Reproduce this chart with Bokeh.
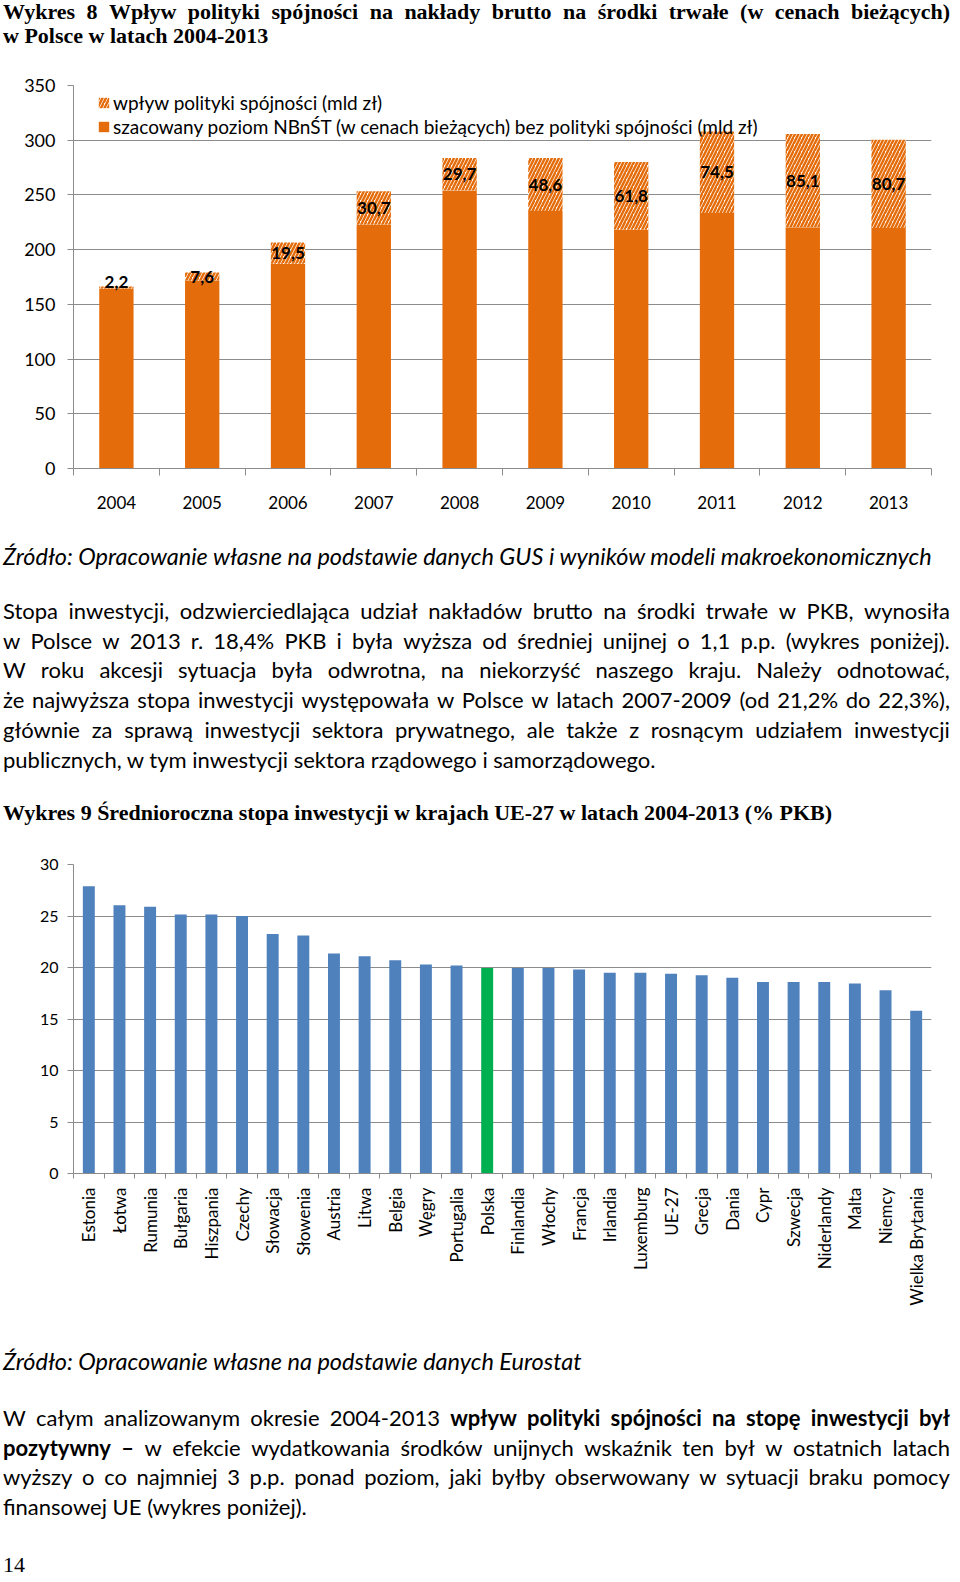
import math
import numpy as np
from bokeh.plotting import figure
from bokeh.models import Range1d, FixedTicker, Legend, LegendItem, Div, ColumnDataSource
from bokeh.layouts import column
from bokeh.core.properties import value
from bokeh.embed import file_html
from bokeh.resources import INLINE

# ---------------- data: chart 8 ----------------
years = ["2004", "2005", "2006", "2007", "2008", "2009", "2010", "2011", "2012", "2013"]
nbnst_without_cohesion = [164.2, 171.5, 187.1, 222.7, 254.1, 235.2, 218.2, 233.4, 220.5, 219.7]
cohesion_impact = [2.2, 7.6, 19.5, 30.7, 29.7, 48.6, 61.8, 74.5, 85.1, 80.7]
y1_ticks = [0, 50, 100, 150, 200, 250, 300, 350]

# ---------------- data: chart 9 ----------------
countries = ["Estonia", "Łotwa", "Rumunia", "Bułgaria", "Hiszpania", "Czechy", "Słowacja",
             "Słowenia", "Austria", "Litwa", "Belgia", "Węgry", "Portugalia", "Polska",
             "Finlandia", "Włochy", "Francja", "Irlandia", "Luxemburg", "UE-27", "Grecja",
             "Dania", "Cypr", "Szwecja", "Niderlandy", "Malta", "Niemcy", "Wielka Brytania"]
investment_rate = [27.9, 26.05, 25.9, 25.15, 25.15, 25.0, 23.25, 23.1, 21.35, 21.1, 20.7, 20.3,
                   20.2, 19.95, 19.95, 19.95, 19.8, 19.5, 19.5, 19.4, 19.25, 19.0, 18.6, 18.6,
                   18.6, 18.45, 17.8, 15.8]
highlight_country = "Polska"
y2_ticks = [0, 5, 10, 15, 20, 25, 30]

ORANGE = "#E46C0A"
BLUE = "#4F81BD"
GREEN = "#00B050"
GRID = "#8C8C8C"
W = 947

# ---------------- chart 8 ----------------
n1 = len(years)
xs1 = list(range(n1))
tops1 = [b + h for b, h in zip(nbnst_without_cohesion, cohesion_impact)]
label_y = [b + h / 2 if h >= 5 else b + h + 4 for b, h in zip(nbnst_without_cohesion, cohesion_impact)]
labels1 = [f"{v:.1f}".replace(".", ",") for v in cohesion_impact]
src1 = ColumnDataSource(dict(x=xs1, base=nbnst_without_cohesion, top=tops1, ly=label_y, lab=labels1))

p1 = figure(width=W, height=467, x_range=Range1d(-0.5, n1 - 0.5), y_range=Range1d(0, 350),
            output_backend="svg", toolbar_location=None,
            min_border_left=70, min_border_right=16, min_border_top=32, min_border_bottom=52)
p1.margin = (0, 0, 0, 0)
p1.outline_line_color = None
p1.background_fill_color = "white"
p1.border_fill_color = "white"

r_base = p1.vbar(x="x", bottom=0, top="base", width=0.4, fill_color=ORANGE, line_color=None, source=src1)
r_hatch = p1.vbar(x="x", bottom="base", top="top", width=0.4, fill_color="white", line_color=None,
                  hatch_pattern="/", hatch_color=ORANGE, hatch_scale=7, hatch_weight=2.5, source=src1)
p1.text(x="x", y="ly", text="lab", text_font=value("Lato"), text_font_style="bold",
        text_font_size="17px", text_align="center", text_baseline="middle", text_color="black",
        source=src1)

ax = p1.xaxis[0]
ax.ticker = FixedTicker(ticks=xs1, minor_ticks=[i - 0.5 for i in range(n1 + 1)])
ax.major_label_overrides = {i: y for i, y in enumerate(years)}
ax.major_tick_out = 0
ax.major_tick_in = 0
ax.minor_tick_out = 7
ax.minor_tick_in = 0
ax.minor_tick_line_color = GRID
ax.axis_line_color = GRID
ax.major_label_text_font = "Lato"
ax.major_label_text_font_size = "17px"
ax.major_label_text_color = "black"
ax.major_label_standoff = 20

ay = p1.yaxis[0]
ay.ticker = FixedTicker(ticks=y1_ticks, minor_ticks=[])
ay.major_tick_out = 6
ay.major_tick_in = 0
ay.major_tick_line_color = GRID
ay.axis_line_color = GRID
ay.major_label_text_font = "Lato"
ay.major_label_text_font_size = "18px"
ay.major_label_text_color = "black"
ay.major_label_standoff = 12

p1.xgrid.visible = False
p1.ygrid.ticker = FixedTicker(ticks=y1_ticks, minor_ticks=[])
p1.ygrid.grid_line_color = GRID
p1.ygrid.grid_line_width = 1

legend = Legend(items=[
    LegendItem(label="wpływ polityki spójności (mld zł)", renderers=[r_hatch]),
    LegendItem(label="szacowany poziom NBnŚT (w cenach bieżących) bez polityki spójności (mld zł)", renderers=[r_base]),
], location=(24, 330))
legend.padding = 0
legend.margin = 0
legend.spacing = 0
legend.border_line_alpha = 0
legend.background_fill_alpha = 0
legend.glyph_width = 13
legend.glyph_height = 13
legend.label_height = 24
legend.label_standoff = 3
legend.label_text_font = "Lato"
legend.label_text_font_size = "19px"
legend.label_text_color = "black"
p1.add_layout(legend)

# ---------------- chart 9 ----------------
n2 = len(countries)
xs2 = list(range(n2))
colors2 = [GREEN if c == highlight_country else BLUE for c in countries]
src2 = ColumnDataSource(dict(x=xs2, v=investment_rate, c=colors2))

p2 = figure(width=W, height=485, x_range=Range1d(-0.5, n2 - 0.5), y_range=Range1d(0, 30),
            output_backend="svg", toolbar_location=None,
            min_border_left=50, min_border_right=19, min_border_top=29, min_border_bottom=147)
p2.margin = (0, 0, 0, 0)
p2.outline_line_color = None
p2.vbar(x="x", bottom=0, top="v", width=0.39, fill_color="c", line_color=None, source=src2)

bx = p2.xaxis[0]
bx.ticker = FixedTicker(ticks=xs2, minor_ticks=[i - 0.5 for i in range(n2 + 1)])
bx.major_label_overrides = {i: c for i, c in enumerate(countries)}
bx.major_label_orientation = math.pi / 2
bx.major_tick_out = 0
bx.major_tick_in = 0
bx.minor_tick_out = 5
bx.minor_tick_in = 0
bx.minor_tick_line_color = GRID
bx.axis_line_color = GRID
bx.major_label_text_font = "Lato"
bx.major_label_text_font_size = "17px"
bx.major_label_text_color = "black"
bx.major_label_standoff = 9

by = p2.yaxis[0]
by.ticker = FixedTicker(ticks=y2_ticks, minor_ticks=[])
by.major_tick_out = 6
by.major_tick_in = 0
by.major_tick_line_color = GRID
by.axis_line_color = GRID
by.major_label_text_font = "Lato"
by.major_label_text_font_size = "16px"
by.major_label_text_color = "black"
by.major_label_standoff = 9

p2.xgrid.visible = False
p2.ygrid.ticker = FixedTicker(ticks=y2_ticks, minor_ticks=[])
p2.ygrid.grid_line_color = GRID

# ---------------- text blocks ----------------
SERIF = "font-family:'Liberation Serif','Times New Roman',serif;"
SANS = "font-family:Lato,sans-serif;"
BODY = 22
SRC = 23.5


def line(segments, center, lh, font_css, justify, size):
    top = center - lh / 2
    words = []
    for txt, bold in segments:
        for w in txt.split():
            words.append(f'<span style="font-weight:{700 if bold else 400}">{w}</span>')
    if justify:
        inner = "".join(words)
        extra = "display:flex;justify-content:space-between;"
    else:
        inner = " ".join(words)
        extra = ""
    return (f'<div style="position:absolute;left:0;top:{top:.1f}px;width:{W}px;height:{lh}px;'
            f'line-height:{lh}px;white-space:nowrap;font-size:{size}px;color:#000;{extra}{font_css}">{inner}</div>')


def block(lines, h):
    return f'<div style="position:relative;width:{W}px;height:{h}px;">' + "".join(lines) + "</div>"


def mkdiv(html, h):
    d = Div(text=html, width=W, height=h)
    d.margin = (0, 0, 0, 0)
    return d


title1 = block([
    line([("Wykres 8 Wpływ polityki spójności na nakłady brutto na środki trwałe (w cenach bieżących)", True)], 9, 24, SERIF, True, 22),
    line([("w Polsce w latach 2004-2013", True)], 33, 24, SERIF, False, 22),
], 50)

LH = 29.7
para1_lines = [
    "Stopa inwestycji, odzwierciedlająca udział nakładów brutto na środki trwałe w PKB, wynosiła",
    "w Polsce w 2013 r. 18,4% PKB i była wyższa od średniej unijnej o 1,1 p.p. (wykres poniżej).",
    "W roku akcesji sytuacja była odwrotna, na niekorzyść naszego kraju. Należy odnotować,",
    "że najwyższa stopa inwestycji występowała w Polsce w latach 2007-2009 (od 21,2% do 22,3%),",
    "głównie za sprawą inwestycji sektora prywatnego, ale także z rosnącym udziałem inwestycji",
    "publicznych, w tym inwestycji sektora rządowego i samorządowego.",
]
blk2 = [line([("Źródło: Opracowanie własne na podstawie danych GUS i wyników modeli makroekonomicznych", False)],
             36, 28, SANS + "font-style:italic;", False, SRC)]
for i, t in enumerate(para1_lines):
    blk2.append(line([(t, False)], 91 + i * LH, 28, SANS, i < len(para1_lines) - 1, BODY))
text2 = block(blk2, 270)

title2 = block([
    line([("Wykres 9 Średnioroczna stopa inwestycji w krajach UE-27 w latach 2004-2013 (% PKB)", True)], 23, 24, SERIF, False, 22),
], 45)

para2_lines = [
    [("W całym analizowanym okresie 2004-2013", False), ("wpływ polityki spójności na stopę inwestycji był", True)],
    [("pozytywny –", True), ("w efekcie wydatkowania środków unijnych wskaźnik ten był w ostatnich latach", False)],
    [("wyższy o co najmniej 3 p.p. ponad poziom, jaki byłby obserwowany w sytuacji braku pomocy", False)],
    [("finansowej UE (wykres poniżej).", False)],
]
blk4 = [line([("Źródło: Opracowanie własne na podstawie danych Eurostat", False)],
             41, 28, SANS + "font-style:italic;", False, SRC)]
for i, segs in enumerate(para2_lines):
    blk4.append(line(segs, 98 + i * LH, 28, SANS, i < len(para2_lines) - 1, BODY))
blk4.append(line([("14", False)], 245, 12, SERIF, False, 22))
text4 = block(blk4, 251)

root = column(mkdiv(title1, 50), p1, mkdiv(text2, 270), mkdiv(title2, 45), p2, mkdiv(text4, 251),
              spacing=0)
root.margin = (3, 0, 0, 3)

open("out.html", "w").write(file_html(root, INLINE))
